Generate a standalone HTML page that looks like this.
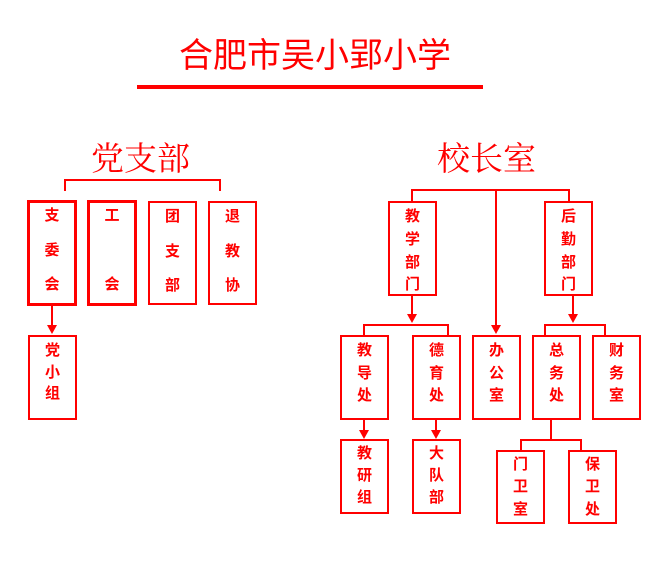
<!DOCTYPE html>
<html><head><meta charset="utf-8"><style>
body{margin:0;width:667px;height:566px;background:#fff;position:relative;overflow:hidden;font-family:"Liberation Sans","Noto Sans CJK SC",sans-serif;}
.b{position:absolute;border:2px solid #f00;box-sizing:border-box;}
.t{position:absolute;left:0;right:0;text-align:center;color:#f00;font-weight:bold;font-size:15px;line-height:15px;}
.l{position:absolute;background:#f00;}
.a{position:absolute;width:0;height:0;border-left:5px solid transparent;border-right:5px solid transparent;border-top:9px solid #f00;}
.h{position:absolute;color:#f00;font-family:"Liberation Serif","Noto Serif CJK SC",serif;font-size:33px;line-height:36px;white-space:nowrap;}
</style></head><body>
<div class="h" style="left:179px;top:38px;font-family:'Liberation Sans','Noto Sans CJK SC',sans-serif;font-size:34px;">合肥市吴小郢小学</div>
<div class="l" style="left:137px;top:85px;width:346px;height:4px;"></div>
<div class="h" style="left:91px;top:142px;">党支部</div>
<div class="h" style="left:437px;top:142px;">校长室</div>

<div class="l" style="left:64px;top:179px;width:157px;height:2px;"></div>
<div class="l" style="left:64px;top:179px;width:2px;height:12px;"></div>
<div class="l" style="left:219px;top:179px;width:2px;height:12px;"></div>

<div class="b" style="left:27px;top:200px;width:50px;height:106px;border-width:3px;"><div class="t" style="top:5px">支</div><div class="t" style="top:40px">委</div><div class="t" style="top:74px">会</div></div>
<div class="b" style="left:87px;top:200px;width:50px;height:106px;border-width:3px;"><div class="t" style="top:5px">工</div><div class="t" style="top:74px">会</div></div>
<div class="b" style="left:148px;top:201px;width:49px;height:104px;"><div class="t" style="top:6px">团</div><div class="t" style="top:41px">支</div><div class="t" style="top:75px">部</div></div>
<div class="b" style="left:208px;top:201px;width:49px;height:104px;"><div class="t" style="top:6px">退</div><div class="t" style="top:41px">教</div><div class="t" style="top:75px">协</div></div>
<div class="l" style="left:51px;top:305px;width:2px;height:22px;"></div>
<div class="a" style="left:47px;top:325px;"></div>
<div class="b" style="left:28px;top:335px;width:49px;height:85px;"><div class="t" style="top:6px">党</div><div class="t" style="top:28px">小</div><div class="t" style="top:49px">组</div></div>

<div class="l" style="left:411px;top:189px;width:159px;height:2px;"></div>
<div class="l" style="left:411px;top:189px;width:2px;height:12px;"></div>
<div class="l" style="left:568px;top:189px;width:2px;height:12px;"></div>
<div class="l" style="left:495px;top:189px;width:2px;height:138px;"></div>
<div class="a" style="left:491px;top:325px;"></div>

<div class="b" style="left:388px;top:201px;width:49px;height:95px;"><div class="t" style="top:6px">教</div><div class="t" style="top:29px">学</div><div class="t" style="top:52px">部</div><div class="t" style="top:74px">门</div></div>
<div class="b" style="left:544px;top:201px;width:49px;height:95px;"><div class="t" style="top:6px">后</div><div class="t" style="top:29px">勤</div><div class="t" style="top:52px">部</div><div class="t" style="top:74px">门</div></div>

<div class="l" style="left:411px;top:295px;width:2px;height:20px;"></div>
<div class="a" style="left:407px;top:314px;"></div>
<div class="l" style="left:572px;top:295px;width:2px;height:20px;"></div>
<div class="a" style="left:568px;top:314px;"></div>

<div class="l" style="left:363px;top:324px;width:86px;height:2px;"></div>
<div class="l" style="left:363px;top:324px;width:2px;height:12px;"></div>
<div class="l" style="left:447px;top:324px;width:2px;height:12px;"></div>
<div class="l" style="left:544px;top:324px;width:62px;height:2px;"></div>
<div class="l" style="left:544px;top:324px;width:2px;height:12px;"></div>
<div class="l" style="left:604px;top:324px;width:2px;height:12px;"></div>

<div class="b" style="left:340px;top:335px;width:49px;height:85px;"><div class="t" style="top:6px">教</div><div class="t" style="top:29px">导</div><div class="t" style="top:51px">处</div></div>
<div class="b" style="left:412px;top:335px;width:49px;height:85px;"><div class="t" style="top:6px">德</div><div class="t" style="top:29px">育</div><div class="t" style="top:51px">处</div></div>
<div class="b" style="left:472px;top:335px;width:49px;height:85px;"><div class="t" style="top:6px">办</div><div class="t" style="top:29px">公</div><div class="t" style="top:51px">室</div></div>
<div class="b" style="left:532px;top:335px;width:49px;height:85px;"><div class="t" style="top:6px">总</div><div class="t" style="top:29px">务</div><div class="t" style="top:51px">处</div></div>
<div class="b" style="left:592px;top:335px;width:49px;height:85px;"><div class="t" style="top:6px">财</div><div class="t" style="top:29px">务</div><div class="t" style="top:51px">室</div></div>

<div class="l" style="left:363px;top:419px;width:2px;height:12px;"></div>
<div class="a" style="left:359px;top:430px;"></div>
<div class="l" style="left:435px;top:419px;width:2px;height:12px;"></div>
<div class="a" style="left:431px;top:430px;"></div>

<div class="b" style="left:340px;top:439px;width:49px;height:75px;"><div class="t" style="top:5px">教</div><div class="t" style="top:27px">研</div><div class="t" style="top:49px">组</div></div>
<div class="b" style="left:412px;top:439px;width:49px;height:75px;"><div class="t" style="top:5px">大</div><div class="t" style="top:27px">队</div><div class="t" style="top:49px">部</div></div>

<div class="l" style="left:550px;top:419px;width:2px;height:22px;"></div>
<div class="l" style="left:520px;top:439px;width:62px;height:2px;"></div>
<div class="l" style="left:520px;top:439px;width:2px;height:12px;"></div>
<div class="l" style="left:580px;top:439px;width:2px;height:12px;"></div>

<div class="b" style="left:496px;top:450px;width:49px;height:74px;"><div class="t" style="top:5px">门</div><div class="t" style="top:27px">卫</div><div class="t" style="top:50px">室</div></div>
<div class="b" style="left:568px;top:450px;width:49px;height:74px;"><div class="t" style="top:5px">保</div><div class="t" style="top:27px">卫</div><div class="t" style="top:50px">处</div></div>
</body></html>
